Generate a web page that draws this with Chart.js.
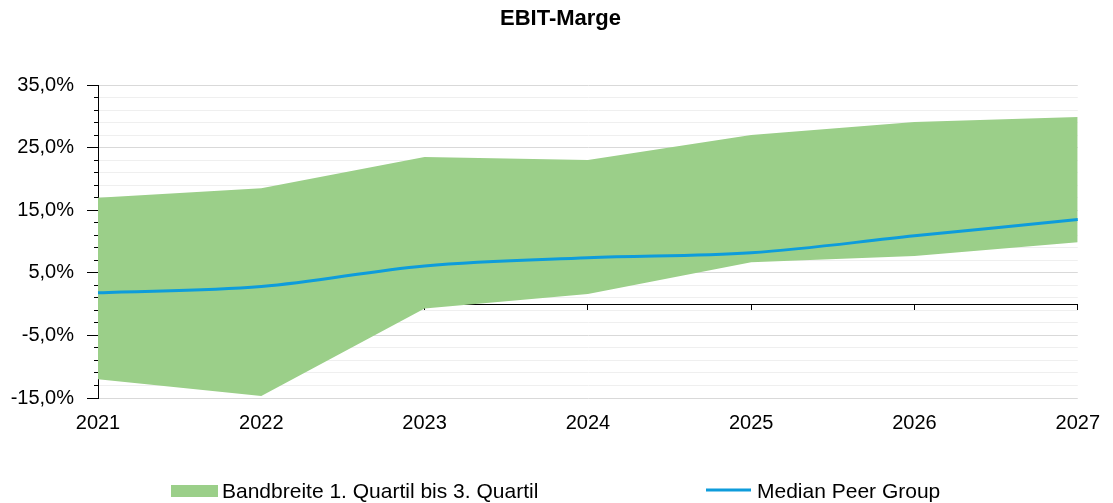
<!DOCTYPE html>
<html><head><meta charset="utf-8">
<script src="https://cdn.jsdelivr.net/npm/chart.js@4.4.1/dist/chart.umd.min.js"></script>
<style>html,body{margin:0;padding:0;background:#fff}canvas{display:block}</style>
</head><body>
<canvas id="c" width="1113" height="503"></canvas>
<script>
// ---- data ----
const categories = ['2021', '2022', '2023', '2024', '2025', '2026', '2027'];
const quartile1 = [-12.0, -14.7, -0.7, 1.6, 6.7, 7.7, 9.9];
const quartile3 = [17.0, 18.5, 23.5, 23.0, 27.0, 29.1, 29.9];
const medianPeer = [1.8, 2.8, 6.1, 7.4, 8.2, 10.9, 13.5];
const seriesNames = ['Bandbreite 1. Quartil bis 3. Quartil', 'Median Peer Group'];
const chartTitle = 'EBIT-Marge';
const yMin = -15, yMax = 35, yLabelStep = 10, yGridStep = 2;

const GREEN = '#9BCF89';
const BLUE = '#0E9CDB';
const FONT = "'Liberation Sans', Arial, Helvetica, sans-serif";

Chart.defaults.font.family = FONT;
Chart.defaults.font.size = 20;
Chart.defaults.color = '#000';

const isMajor = v => {
  const r = Math.abs((v - yMin) % yLabelStep);
  return r < 1e-6 || Math.abs(r - yLabelStep) < 1e-6;
};
const fmt = v => v.toFixed(1).replace('.', ',') + '%';

const bottomLegend = {
  id: 'bottomLegend',
  afterDraw(chart) {
    const ctx = chart.ctx;
    const cx = chart.width / 2;
    const y = 491;
    ctx.save();
    ctx.font = '21px ' + FONT;
    ctx.textBaseline = 'middle';
    ctx.textAlign = 'left';
    // band item
    const x1 = cx - 385.5;
    ctx.fillStyle = GREEN;
    ctx.fillRect(x1, y - 6, 47, 12);
    ctx.fillStyle = '#000';
    ctx.fillText(seriesNames[0], x1 + 51, y + 1);
    // median item
    const x2 = cx + 149.5;
    ctx.strokeStyle = BLUE;
    ctx.lineWidth = 3;
    ctx.beginPath();
    ctx.moveTo(x2, y - 1);
    ctx.lineTo(x2 + 45, y - 1);
    ctx.stroke();
    ctx.fillStyle = '#000';
    ctx.fillText(seriesNames[1], x2 + 51, y + 1);
    ctx.restore();
  }
};

new Chart(document.getElementById('c'), {
  type: 'line',
  data: {
    labels: categories,
    datasets: [
      { label: seriesNames[1], data: medianPeer, borderColor: BLUE, borderWidth: 3,
        pointRadius: 0, pointHoverRadius: 0, tension: 0.35, fill: false, order: 0 },
      { label: seriesNames[0], data: quartile3, borderColor: 'rgba(0,0,0,0)', borderWidth: 0,
        backgroundColor: GREEN, pointRadius: 0, pointHoverRadius: 0, tension: 0, fill: '+1', order: 1 },
      { label: 'Q1', data: quartile1, borderColor: 'rgba(0,0,0,0)', borderWidth: 0,
        pointRadius: 0, pointHoverRadius: 0, tension: 0, fill: false, order: 2 }
    ]
  },
  options: {
    responsive: false,
    animation: false,
    devicePixelRatio: 1,
    layout: { padding: { left: 8, right: 0, top: 0, bottom: 0 } },
    plugins: {
      legend: { display: false },
      tooltip: { enabled: false },
      title: {
        display: true, text: chartTitle, color: '#000',
        font: { size: 22, weight: 'bold' },
        padding: { top: 6, bottom: 52.6 }
      }
    },
    scales: {
      x: {
        type: 'category', position: 'bottom', offset: false,
        grid: { display: false, drawTicks: false },
        border: { display: false },
        ticks: { color: '#000', padding: 13, maxRotation: 0, autoSkip: false, font: { size: 20 } },
        afterFit(s) { s.height = 105; }
      },
      x2: {
        type: 'category', axis: 'x', position: { y: 0 }, offset: false, z: 1,
        grid: { display: true, drawOnChartArea: false, drawTicks: true, tickLength: 5, color: '#000', tickColor: '#000' },
        border: { display: true, color: '#000', width: 1 },
        ticks: { display: false }
      },
      y: {
        type: 'linear', position: 'left', min: yMin, max: yMax,
        ticks: {
          stepSize: yGridStep, autoSkip: false, color: '#000', padding: 13, font: { size: 20 },
          callback: v => isMajor(v) ? fmt(v) : ''
        },
        grid: {
          color: c => isMajor(c.tick.value) ? '#D9D9D9' : '#EFEFEF',
          tickColor: '#000', tickLength: 11,
          tickBorderDash: c => isMajor(c.tick.value) ? [] : [0, 7, 4, 0]
        },
        border: { display: true, color: '#000', width: 1 },
        afterFit(s) { s.width = 90; }
      },
      yRightMargin: {
        type: 'linear', axis: 'y', position: 'right', min: yMin, max: yMax,
        grid: { display: false, drawTicks: false },
        border: { display: false },
        ticks: { display: false },
        afterFit(s) { s.width = 35; }
      }
    }
  },
  plugins: [bottomLegend]
});
</script>
</body></html>
